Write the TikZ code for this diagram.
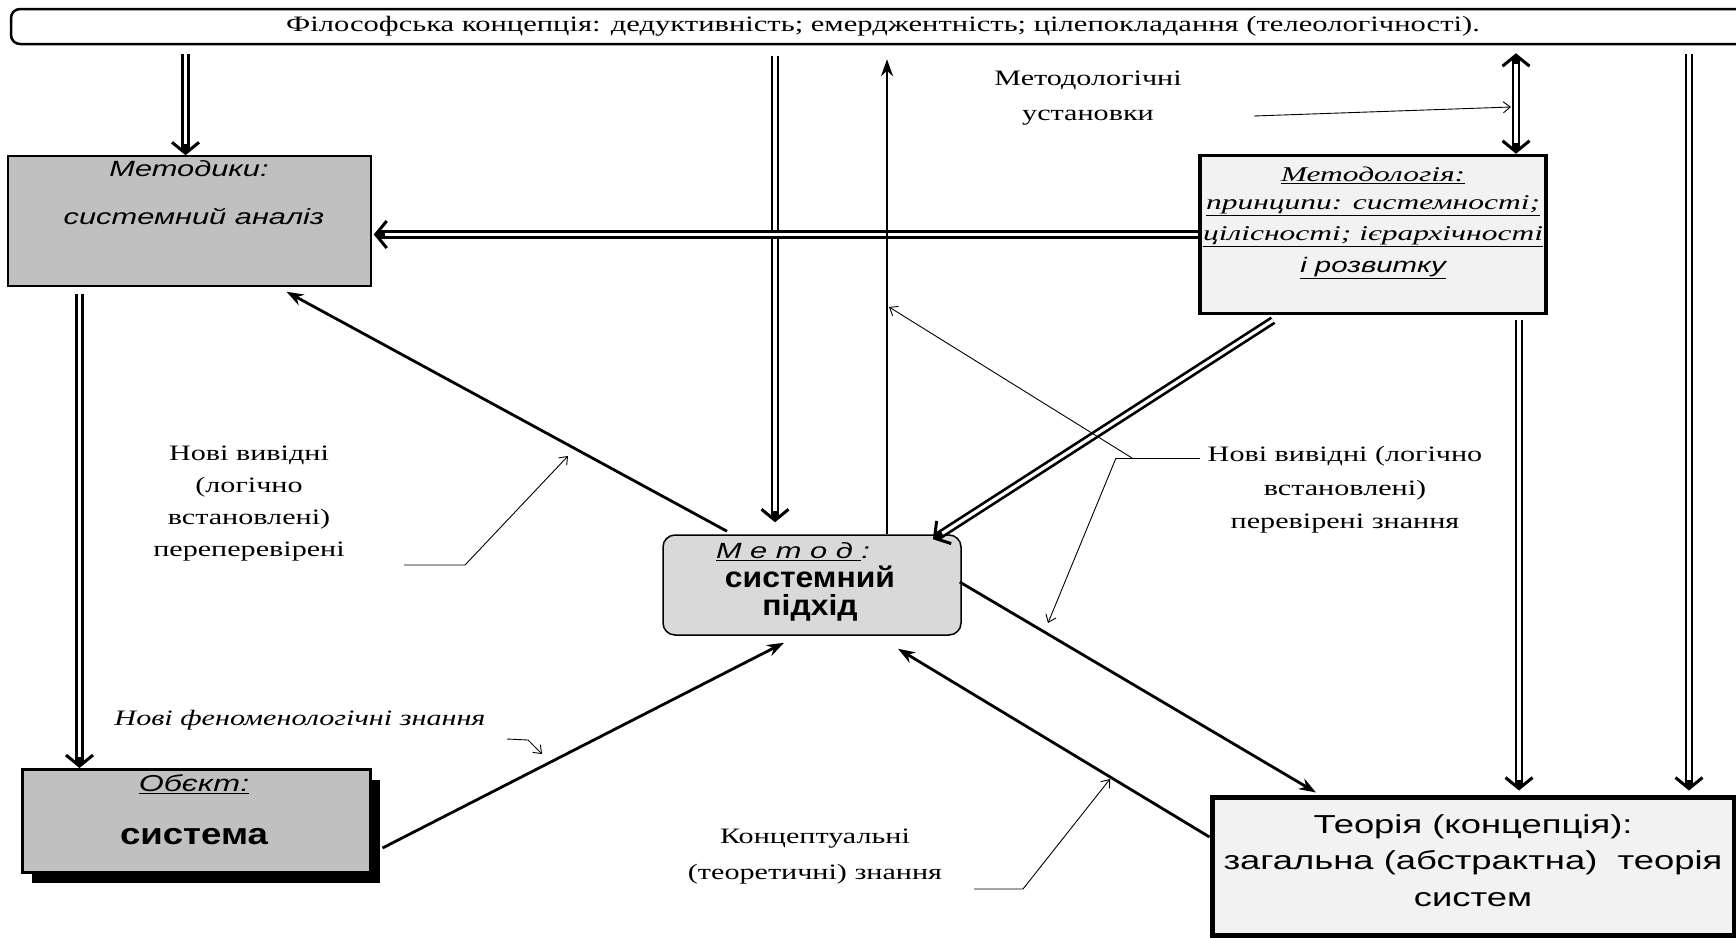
\documentclass[tikz,border=0pt]{standalone}
\usepackage{fontspec}
\setmainfont[FakeStretch=1.37]{Liberation Serif}
\newfontfamily\bannerfont[FakeStretch=1.39]{Liberation Serif}
\newfontfamily\lsans[FakeStretch=1.4]{Liberation Sans}
\newfontfamily\lsansn[FakeStretch=1.1]{Liberation Sans}
\newfontfamily\lsanso[FakeStretch=1.22]{Liberation Sans}
\newfontfamily\lserw[FakeStretch=1.5]{Liberation Serif}
\usetikzlibrary{arrows.meta,shadows,calc}
\definecolor{gA}{HTML}{C0C0C0}
\definecolor{gB}{HTML}{D9D9D9}
\definecolor{gC}{HTML}{F2F2F2}
\begin{document}
\begin{tikzpicture}[x=1pt,y=-1pt,
  lbl/.style={font=\fontsize{22}{33}\selectfont, align=center, inner sep=0pt},
  intext/.style={inner sep=0pt, align=center},
  thickarr/.style={line width=2.8pt, -{Stealth[length=17pt,width=12pt]}},
  dbl/.style={line width=8.6pt, -{Straight Barb[length=11pt,width=27pt,line width=3pt]},
              postaction={draw=white, line width=3.2pt, -, shorten >=11pt}},
  dblboth/.style={line width=8.6pt, {Straight Barb[length=11pt,width=27pt,line width=3pt]}-{Straight Barb[length=11pt,width=27pt,line width=3pt]},
              postaction={draw=white, line width=3.2pt, -, shorten >=11pt, shorten <=11pt}},
  thinarr/.style={line width=0.9pt, -{Straight Barb[length=7pt,width=11pt]}},
]
\useasboundingbox (0,0) rectangle (1736,937);
\fill[white] (0,0) rectangle (1736,937);

% boxes
\node[draw, line width=2.5pt, rounded corners=9pt, minimum width=1744pt, minimum height=35pt, inner sep=0pt,
      font=\bannerfont\fontsize{22}{26}\selectfont] (banner) at (883,26.5)
      {Філософська концепція: дедуктивність; емерджентність; цілепокладання (телеологічності).};

\node[draw, line width=1.5pt, fill=gA, minimum width=363pt, minimum height=130pt, inner sep=0pt] (metodyky) at (189.5,221) {};
\node[intext, font=\lsans\itshape\fontsize{22}{26}\selectfont] (mkA) at (189,169) {Методики:};
\node[intext, font=\lsans\itshape\fontsize{22}{26}\selectfont] (mkB) at (194,216) {системний аналіз};

\node[draw, line width=3.5pt, fill=gC, minimum width=346pt, minimum height=158pt, inner sep=0pt] (metodologia) at (1373,234.5) {};
\node[intext, font=\lserw\itshape\fontsize{21}{25}\selectfont] (mlA) at (1373,175) {\underline{Методологія:}};
\node[intext, font=\lserw\itshape\fontsize{21}{25}\selectfont] (mlB) at (1373,206) {\underline{принципи: системності;}};
\node[intext, font=\lserw\itshape\fontsize{21}{25}\selectfont] (mlC) at (1373,237) {\underline{цілісності; ієрархічності}};
\node[intext, font=\lsans\itshape\fontsize{21}{25}\selectfont] (mlD) at (1373,268) {\underline{і розвитку}};

\node[draw, line width=1.5pt, fill=gB, rounded corners=12pt, minimum width=298pt, minimum height=100pt, inner sep=0pt] (metod) at (812,585) {};
\node[intext, font=\lsans\itshape\fontsize{22}{26}\selectfont] (mdA) at (793,552) {\underline{М е т о д }:};
\node[intext, font=\lsansn\bfseries\fontsize{29}{28}\selectfont] (mdB) at (810,594) {системний\\підхід};

\node[draw, line width=3pt, fill=gA, minimum width=348pt, minimum height=103pt, inner sep=0pt,
      drop shadow={shadow xshift=10pt, shadow yshift=-10pt, fill=black, opacity=1}] (obekt) at (196,821) {};
\node[intext, font=\lsans\itshape\fontsize{23}{26}\selectfont] (obA) at (194,784) {\underline{Обєкт:}};
\node[intext, font=\lsanso\bfseries\fontsize{30}{30}\selectfont] (obB) at (194,837) {система};

\node[draw, line width=5pt, fill=gC, minimum width=522pt, minimum height=138pt, inner sep=0pt] (teoria) at (1473,866) {};
\node[intext, font=\lsans\fontsize{26}{30}\selectfont] (tA) at (1473,827) {Теорія (концепція):};
\node[intext, font=\lsans\fontsize{26}{30}\selectfont] (tB) at (1473,863) {загальна (абстрактна)\ \ теорія};
\node[intext, font=\lsans\fontsize{26}{30}\selectfont] (tC) at (1473,900) {систем};

% labels
\node[lbl, font=\fontsize{22}{35}\selectfont] (ust) at (1088,98) {Методологічні\\установки};
\node[lbl, font=\fontsize{22}{32.3}\selectfont] (nvL) at (249,503.5) {Нові вивідні\\(логічно\\встановлені)\\переперевірені};
\node[lbl, font=\fontsize{22}{33.5}\selectfont] (nvR) at (1345,490) {Нові вивідні (логічно\\встановлені)\\перевірені знання};
\node[lbl, font=\itshape\fontsize{22}{26}\selectfont] (fen) at (300,720) {Нові феноменологічні знання};
\node[lbl, font=\fontsize{22}{36}\selectfont] (konc) at (815,857) {Концептуальні\\(теоретичні) знання};

% double connectors
\draw[dbl] ($(metodyky.north |- banner.south)+(-4,9)$) -- ($(metodyky.north)+(-4,0)$);
\draw[dbl] ($(metod.north |- banner.south)+(-37,11)$) -- ($(metod.north)+(-37,-12)$);
\draw[dblboth] ($(metodologia.north |- banner.south)+(143,8)$) -- ($(metodologia.north)+(143,0)$);
\draw[dbl] ($(teoria.north |- banner.south)+(216,9)$) -- ($(teoria.north)+(216,-4)$);
\draw[dbl] ($(metodologia.south)+(146,5)$) -- ($(teoria.north)+(46,-4)$);
\draw[dbl] (metodologia.west) -- ($(metodologia.west -| metodyky.east)+(2,0)$);
\draw[dbl] ($(metodyky.south)+(-110,7)$) -- ($(metodyky.south |- obekt.north)+(-110,0)$);
\draw[dbl] ($(metodologia.south)+(-100,5)$) -- ($(metod.north)+(121,5)$);

% single thick connectors
\draw[thickarr] ($(metod.north)+(75,0)$) -- ($(metod.north |- banner.south)+(75,14)$);
\draw[thickarr] ($(metod.north)+(-85,-3)$) -- ($(metodyky.south)+(97,5)$);
\draw[thickarr] ($(obekt.east)+(11,27)$) -- ($(metod.south)+(-28,7)$);
\draw[thickarr] ($(metod.east)+(-2,-3)$) -- ($(teoria.north)+(-157,-2)$);
\draw[thickarr] ($(teoria.west)+(0,-29)$) -- ($(metod.south)+(86,13)$);

% callouts
\coordinate (u0) at (1254,116); \coordinate (u1) at (1511,107);
\draw[thinarr] (u0) -- (u1);
\coordinate (l0) at (404,565); \coordinate (l1) at (465,565); \coordinate (l2) at (568,456);
\draw[thinarr] (l0) -- (l1) -- (l2);
\coordinate (r0) at (1200,458); \coordinate (r1) at (1132,458); \coordinate (r2) at (1116,458);
\coordinate (r3) at (889,307); \coordinate (r4) at (1048,623);
\draw[line width=0.9pt] (r0) -- (r2);
\draw[thinarr] (r1) -- (r3);
\draw[thinarr] (r2) -- (r4);
\coordinate (b0) at (974,889); \coordinate (b1) at (1023,889); \coordinate (b2) at (1110,779);
\draw[thinarr] (b0) -- (b1) -- (b2);
\coordinate (f0) at (507,739); \coordinate (f1) at (528,740); \coordinate (f2) at (542,754);
\draw[thinarr] (f0) -- (f1) -- (f2);
\end{tikzpicture}
\end{document}
